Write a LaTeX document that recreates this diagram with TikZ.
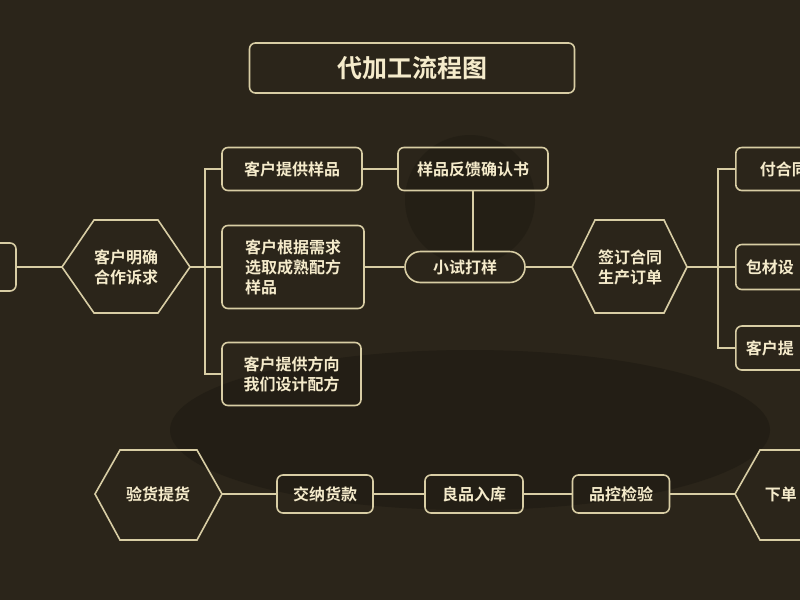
\documentclass[tikz,border=0pt]{standalone}
\usepackage{fontspec}
\setmainfont{Noto Sans CJK SC}[BoldFont={* Bold}]
\usetikzlibrary{shapes.geometric,shapes.misc}
\definecolor{bg}{HTML}{2B251A}
\definecolor{ln}{HTML}{D8CDA4}
\definecolor{tx}{HTML}{F5EBCB}
\begin{document}
\begin{tikzpicture}[x=1pt,y=-1pt,
  every node/.style={text=tx,font=\bfseries\fontsize{16}{20}\selectfont,align=left,line width=1.6pt,draw=ln,inner sep=0pt},
  box/.style={rectangle,rounded corners=6pt},
  lbl/.style={draw=none,anchor=west},
  con/.style={draw=ln,line width=1.6pt}]
\fill[bg] (0,0) rectangle (800,600);
\useasboundingbox (0,0) rectangle (800,600);
\fill[black!30!bg,opacity=0.6] (470,430) ellipse (300 and 80);
\fill[black!25!bg,opacity=0.6] (470,200) circle (65);
\node[box,minimum width=325,minimum height=50,font=\bfseries\fontsize{25}{28}\selectfont] (t) at (412,68) {代加工流程图};
\node[box,minimum width=60,minimum height=48] (l0) at (-14,267) {};
\draw[con] (62,267)--(94,220)--(158,220)--(190,267)--(158,313)--(94,313)--cycle;
\node[draw=none,align=center] (h1) at (126,267) {客户明确\\合作诉求};
\coordinate (h1e) at (190,267); \coordinate (h1w) at (62,267);
\node[box,minimum width=140,minimum height=43] (a) at (292,169) {客户提供样品};
\node[box,minimum width=142,minimum height=83] (b) at (293,267) {客户根据需求\\选取成熟配方\\样品};
\node[box,minimum width=139,minimum height=63] (c) at (291.5,374) {客户提供方向\\我们设计配方};
\node[box,minimum width=150,minimum height=43] (d) at (473,169) {样品反馈确认书};
\node[rounded rectangle,minimum width=120,minimum height=31] (e) at (465,267) {小试打样};
\draw[con] (572,267)--(595,220)--(664,220)--(687,267)--(664,313)--(595,313)--cycle;
\node[draw=none,align=center] (h2) at (630,267) {签订合同\\生产订单};
\coordinate (h2w) at (572,267); \coordinate (h2e) at (687,267);
\node[box,minimum width=120,minimum height=43,anchor=west] (f) at (735,169) {};
\node[box,minimum width=120,minimum height=45,anchor=west] (g) at (735,267) {};
\node[box,minimum width=120,minimum height=44,anchor=west] (h) at (735,348) {};
\node[lbl] (ft) at (759,169) {付合同};
\node[lbl] (gt) at (745,267) {包材设};
\node[lbl] (ht) at (745,348) {客户提};
% bottom
\draw[con] (95,494)--(120,450)--(197,450)--(222,494)--(197,540)--(120,540)--cycle;
\node[draw=none] (v) at (158,494) {验货提货};
\coordinate (ve) at (222,494);
\node[box,minimum width=96,minimum height=38] (p) at (325,494) {交纳货款};
\node[box,minimum width=98,minimum height=38] (q) at (474,494) {良品入库};
\node[box,minimum width=97,minimum height=38] (r) at (621,494) {品控检验};
\draw[con] (735,494)--(760,450)--(820,450)--(845,494)--(820,540)--(760,540)--cycle;
\node[lbl] (s) at (764,494) {下单};
\coordinate (sw) at (735,494);
% connectors
\draw[con] (l0.east)--(h1w);
\draw[con] (h1e)--(205,267);
\draw[con] (a.west)-|(205,267) |-(c.west);
\draw[con] (205,267)--(b.west);
\draw[con] (a.east)--(d.west);
\draw[con] (d.south)--(d.south|-e.north);
\draw[con] (b.east)--(e.west);
\draw[con] (e.east)--(h2w);
\draw[con] (h2e)--(718,267);
\draw[con] (f.west)-|(718,267) |-(h.west);
\draw[con] (718,267)--(g.west);
\draw[con] (ve)--(p.west);
\draw[con] (p.east)--(q.west);
\draw[con] (q.east)--(r.west);
\draw[con] (r.east)--(sw);
\end{tikzpicture}
\end{document}
